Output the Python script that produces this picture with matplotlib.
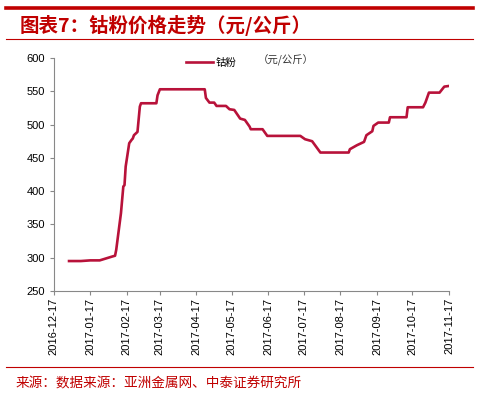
import matplotlib
matplotlib.use("Agg")
import matplotlib.pyplot as plt
import pandas as pd
from matplotlib.lines import Line2D

plt.rcParams['font.family'] = ['Liberation Sans', 'Noto Sans CJK SC', 'DejaVu Sans']

# price of cobalt powder, yuan/kg
dates = ["2016-12-30", "2017-01-09", "2017-01-17", "2017-01-25", "2017-02-05",
         "2017-02-07", "2017-02-08", "2017-02-12", "2017-02-14", "2017-02-15",
         "2017-02-16", "2017-02-19", "2017-02-21", "2017-02-22", "2017-02-23",
         "2017-02-26", "2017-02-28", "2017-03-01", "2017-03-14", "2017-03-15",
         "2017-03-17", "2017-04-24", "2017-04-25", "2017-04-28", "2017-05-02",
         "2017-05-04", "2017-05-12", "2017-05-15", "2017-05-19", "2017-05-24",
         "2017-05-28", "2017-06-01", "2017-06-02", "2017-06-12", "2017-06-16",
         "2017-07-14", "2017-07-18", "2017-07-24", "2017-07-31", "2017-08-24",
         "2017-08-25", "2017-08-29", "2017-08-31", "2017-09-06", "2017-09-08",
         "2017-09-13", "2017-09-14", "2017-09-18", "2017-09-27", "2017-09-28",
         "2017-10-12", "2017-10-13", "2017-10-26", "2017-10-28", "2017-10-31",
         "2017-11-09", "2017-11-13", "2017-11-17"]
prices = [295, 295, 296, 296, 302,
          303, 312, 367, 407, 409,
          437, 472, 477, 479, 484,
          489, 527, 532, 532, 544,
          553, 553, 540, 533, 533,
          528, 528, 523, 522, 509,
          507, 497, 493, 493, 483,
          483, 478, 475, 458, 458,
          463, 467, 469, 474, 484,
          490, 498, 503, 503, 511,
          511, 526, 526, 533, 548,
          548, 557, 558]
tick_dates = pd.date_range("2016-12-01", "2017-11-01", freq="MS") + pd.Timedelta(days=16)
tick_labels = [d.strftime("%Y-%m-%d") for d in tick_dates]

RED = "#c00000"
LINE = "#b8123a"

fig = plt.figure(figsize=(4.86, 3.95), dpi=100)

# header / footer rules
fig.add_artist(Line2D([6/486, 473/486], [1 - 7.5/395] * 2, color=RED, lw=2.6))
fig.add_artist(Line2D([6/486, 473/486], [1 - 39/395] * 2, color=RED, lw=0.8))
fig.add_artist(Line2D([6/486, 473/486], [1 - 367/395] * 2, color=RED, lw=0.8))

fig.text(20/486, 1 - 25/395, "图表7：钴粉价格走势（元/公斤）", color=RED,
         fontsize=14, fontweight='bold', style='italic', va='center',
         family=['Noto Sans CJK SC', 'DejaVu Sans'])
fig.text(16/486, 1 - 383/395, "来源：数据来源：亚洲金属网、中泰证券研究所", color=RED,
         fontsize=9.8, va='center', family=['Noto Sans CJK SC', 'DejaVu Sans'])

ax = fig.add_axes([53.7/486, 1 - 291/395, (449 - 53.7)/486, (291 - 58)/395])
ax.plot(pd.to_datetime(dates), prices, color=LINE, lw=1.9, label="钴粉")

ax.set_xlim(tick_dates[0], tick_dates[-1])
ax.set_ylim(250, 600)
ax.set_yticks(range(250, 601, 50))
ax.set_xticks(tick_dates)
ax.set_xticklabels(tick_labels, rotation=90)
ax.tick_params(axis='both', labelsize=8, color='#888888', length=3, width=0.8)
ax.tick_params(axis='x', pad=2)

for s in ['top', 'right']:
    ax.spines[s].set_visible(False)
for s in ['left', 'bottom']:
    ax.spines[s].set_color('#888888')
    ax.spines[s].set_linewidth(0.8)

ax.legend(loc='upper left', bbox_to_anchor=(0.31, 1.04), frameon=False,
          handlelength=2.6, handletextpad=0.3,
          prop={'family': ['Noto Sans CJK SC'], 'size': 7.5})
fig.text(258/486, 1 - 60/395, "（元/公斤）", fontsize=7.5, va='center',
         family=['Noto Sans CJK SC', 'DejaVu Sans'], color='#333333')

fig.savefig("out.png", dpi=100)
